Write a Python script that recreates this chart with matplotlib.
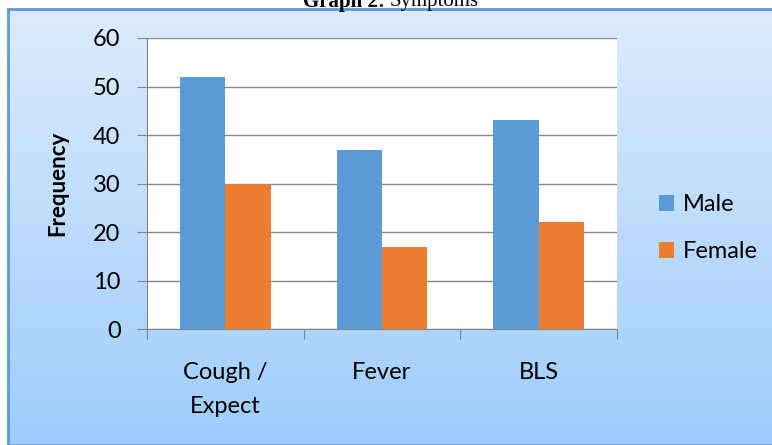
import matplotlib.pyplot as plt
import numpy as np
from matplotlib.patches import Rectangle

# chart data
categories = ['Cough /\nExpect', 'Fever', 'BLS']
male = [52, 37, 43]
female = [30, 17, 22]
y_ticks = [0, 10, 20, 30, 40, 50, 60]

W, H = 772, 445
fig = plt.figure(figsize=(W / 100, H / 100), dpi=100, facecolor='white')

# gradient background panel (chart area of the original document)
bx0, by_top = 8 / W, 1 - 9 / H
bg = fig.add_axes([bx0, 0, 1 - bx0, by_top])
grad = np.linspace(0, 1, 256).reshape(-1, 1)
top_c = np.array([0xdc, 0xeb, 0xfd]) / 255
bot_c = np.array([0x9e, 0xcd, 0xfc]) / 255
img = top_c * (1 - grad[..., None]) + bot_c * grad[..., None]
bg.imshow(img, aspect='auto', extent=[0, 1, 0, 1])
bg.set_xlim(0, 1)
bg.set_ylim(0, 1)
bg.axis('off')
bg.add_patch(Rectangle((0, 0), 1.2, 1, transform=bg.transAxes, fill=False,
                       edgecolor='#5b9bd5', linewidth=2, clip_on=False))

# title, mostly cut off at the top edge (as in the source image)
fig.text(390 / W, 1 + 8 / H, 'Graph 2: ', ha='right', va='top',
         fontsize=15, fontweight='bold', family='Liberation Serif')
fig.text(390 / W, 1 + 8 / H, 'Symptoms', ha='left', va='top',
         fontsize=15, family='Liberation Serif')

# plot area
px0, px1, py_top, py_bot = 147, 617, 38, 329
ax = fig.add_axes([px0 / W, 1 - py_bot / H, (px1 - px0) / W, (py_bot - py_top) / H])
ax.set_facecolor('white')

x = np.arange(len(categories))
bw = 45 / 156
ax.bar(x - bw / 2, male, bw, color='#5b9bd5', label='Male', zorder=3)
ax.bar(x + bw / 2, female, bw, color='#ed7d31', label='Female', zorder=3)

ax.set_xlim(-0.5, len(categories) - 0.5)
ax.set_ylim(0, 60)
ax.set_yticks(y_ticks)
ax.yaxis.grid(True, color='#868686', linewidth=1, zorder=0)

for s in ['top', 'right']:
    ax.spines[s].set_visible(False)
ax.spines['left'].set_color('#868686')
ax.spines['bottom'].set_color('#868686')

ax.set_xticks(np.arange(len(categories) + 1) - 0.5)
ax.set_xticklabels([])
ax.tick_params(axis='x', length=7, color='#868686')
ax.tick_params(axis='y', length=7, color='#868686', labelsize=17, pad=12)
for lab in ax.get_yticklabels():
    lab.set_family('Lato')

for i, c in enumerate(categories):
    ax.text(i, -6.8, c, ha='center', va='top', fontsize=17, family='Lato',
            linespacing=1.75)

ax.set_ylabel('Frequency', fontsize=16, fontweight='bold', family='Lato',
              labelpad=18)

leg = fig.legend(loc='center left', bbox_to_anchor=(659 / W, 1 - 228 / H),
                 frameon=False, prop={'family': 'Lato', 'size': 17},
                 handlelength=0.65, handleheight=0.65, handletextpad=0.35,
                 labelspacing=1.1, borderaxespad=0, borderpad=0)

fig.savefig('out.png', dpi=100, facecolor='white')
